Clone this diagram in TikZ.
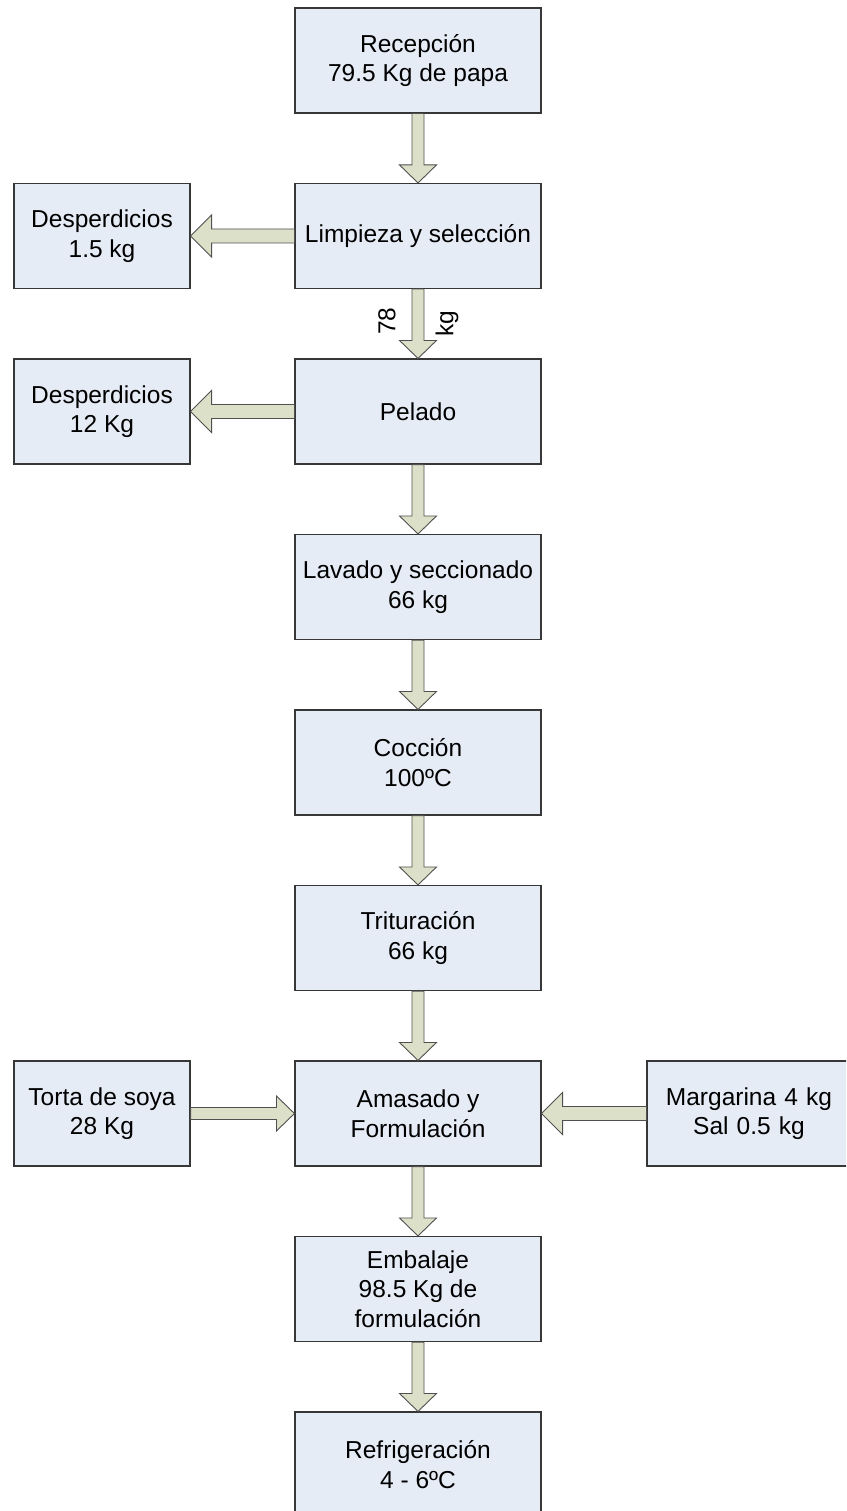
\documentclass[tikz,border=0pt]{standalone}
\usepackage{fontspec}
\setmainfont{Liberation Sans}
\usetikzlibrary{calc}
\definecolor{boxfill}{RGB}{230,236,246}
\definecolor{boxline}{RGB}{55,55,55}
\definecolor{arrowfill}{RGB}{221,224,200}
\definecolor{arrowline}{RGB}{80,80,80}

% block arrow pointing down: shaft 12, head 37, head length 18
\newcommand\flowdown[2]{%
  \draw[blk] ($(#1.south)+(-6,0)$) -- ($(#2.north)+(-6,18)$) -- ($(#2.north)+(-18.5,18)$)
    -- (#2.north) -- ($(#2.north)+(18.5,18)$) -- ($(#2.north)+(6,18)$)
    -- ($(#1.south)+(6,0)$) -- cycle;}
% block arrow pointing left: shaft 14, head 42, head length 21
\newcommand\flowleft[2]{%
  \draw[blk] ($(#1.west)+(0,7)$) -- ($(#2.east)+(21,7)$) -- ($(#2.east)+(21,21)$)
    -- (#2.east) -- ($(#2.east)+(21,-21)$) -- ($(#2.east)+(21,-7)$)
    -- ($(#1.west)+(0,-7)$) -- cycle;}
% block arrow pointing right: shaft 12, head 35, head length 18
\newcommand\flowright[2]{%
  \draw[blk] ($(#1.east)+(0,6)$) -- ($(#2.west)+(-18,6)$) -- ($(#2.west)+(-18,17.5)$)
    -- (#2.west) -- ($(#2.west)+(-18,-17.5)$) -- ($(#2.west)+(-18,-6)$)
    -- ($(#1.east)+(0,-6)$) -- cycle;}

\begin{document}
\begin{tikzpicture}[x=1pt,y=1pt,
  proc/.style={draw=boxline, fill=boxfill, line width=1.1pt, minimum width=246pt,
    minimum height=105pt, align=center, inner sep=0pt,
    font=\fontsize{24.5}{29.5}\selectfont},
  side/.style={proc, minimum width=176pt},
  blk/.style={draw=arrowline, fill=arrowfill, line width=0.9pt, line join=miter},
  lbl/.style={font=\fontsize{24.5}{29.5}\selectfont, rotate=90, inner sep=0pt}]
\useasboundingbox (0,0) rectangle (846,-1511);
\clip (0,0) rectangle (846,-1511);

% main process column
\node[proc] (rec) at (418,-60.5)  {Recepción\\79.5 Kg de papa};
\node[proc] (lim) at (418,-236)   {Limpieza y selección};
\node[proc] (pel) at (418,-411.5) {Pelado};
\node[proc] (lav) at (418,-587)   {Lavado y seccionado\\66 kg};
\node[proc] (coc) at (418,-762.5) {Cocción\\100ºC};
\node[proc] (tri) at (418,-938)   {Trituración\\66 kg};
\node[proc] (ama) at (418,-1113.5){Amasado y\\Formulación};
\node[proc] (emb) at (418,-1289)  {Embalaje\\98.5 Kg de\\formulación};
\node[proc] (ref) at (418,-1464.5){Refrigeración\\4 - 6ºC};

% side boxes
\node[side] (des1) at (102,-236)    {Desperdicios\\1.5 kg};
\node[side] (des2) at (102,-411.5)  {Desperdicios\\12 Kg};
\node[side] (tor)  at (102,-1113.5) {Torta de soya\\28 Kg};
\node[side, minimum width=212pt, text width=200pt, xshift=4pt] (mar) at (749,-1113.5)
  {\hspace*{-8pt}Margarina 4 kg\\\hspace*{-8pt}Sal 0.5 kg};

% flow
\flowdown{rec}{lim}
\flowdown{lim}{pel}
\flowdown{pel}{lav}
\flowdown{lav}{coc}
\flowdown{coc}{tri}
\flowdown{tri}{ama}
\flowdown{ama}{emb}
\flowdown{emb}{ref}
\flowleft{lim}{des1}
\flowleft{pel}{des2}
\flowleft{mar}{ama}
\flowright{tor}{ama}

% mass label beside the arrow
\node[lbl] (m78) at (387,-321) {78};
\node[lbl] (mkg) at (447,-324) {kg};
\end{tikzpicture}
\end{document}
